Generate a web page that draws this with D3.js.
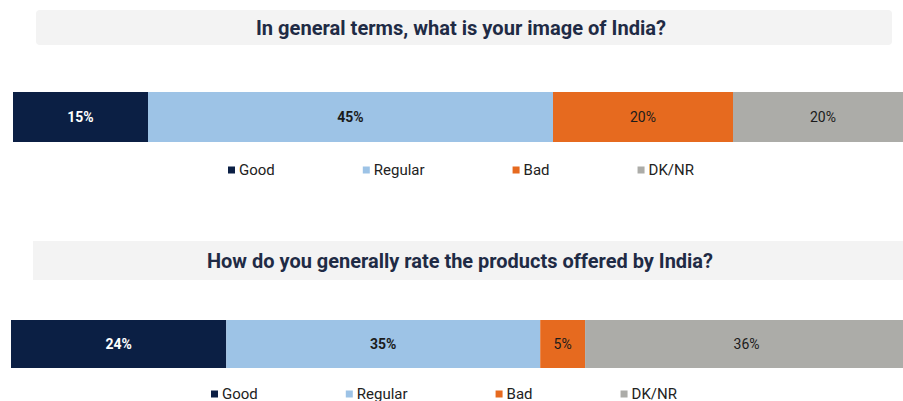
<!DOCTYPE html>
<html>
<head>
<meta charset="utf-8">
<script src="https://cdn.jsdelivr.net/npm/d3@7"></script>
<style>
  body { margin: 0; background: #fff; }
  svg { display: block; font-family: Roboto, "Noto Sans", sans-serif; }
</style>
</head>
<body>
<div id="chart"></div>
<script>
// data
var categories = ["Good", "Regular", "Bad", "DK/NR"];
var imageValues = [15, 45, 20, 20];
var productValues = [24, 35, 5, 36];
var titles = ["In general terms, what is your image of India?",
              "How do you generally rate the products offered by India?"];

var colors = ["#0b1f44", "#9dc3e6", "#e66a1f", "#acaca8"];
var labelColors = ["#ffffff", "#1b1b1b", "#1b1b1b", "#1b1b1b"];
var labelWeights = ["bold", "bold", "normal", "normal"];

var width = 903, height = 401;

var svg = d3.select("#chart").append("svg")
    .attr("width", width)
    .attr("height", height);

// layout of each panel
var panels = [
  {title: titles[0], values: imageValues, box: {x: 36, y: 10, w: 856, h: 35, r: 4},
   titleX: 461, titleLen: 410,
   barX: 13, barW: 900, barY: 92, barH: 50, legendX: 228, legendY: 170},
  {title: titles[1], values: productValues, box: {x: 33, y: 241, w: 870, h: 39, r: 0},
   titleX: 460, titleLen: 506,
   barX: 11, barW: 897, barY: 320, barH: 48, legendX: 211, legendY: 394}
];

panels.forEach(function(p) {
  var g = svg.append("g");

  // title box
  g.append("rect")
    .attr("x", p.box.x).attr("y", p.box.y)
    .attr("width", p.box.w).attr("height", p.box.h)
    .attr("rx", p.box.r)
    .style("fill", "#f3f3f3");

  // condensed look: squeeze a larger bold font into the measured width
  g.append("text")
    .attr("x", p.titleX)
    .attr("y", p.box.y + p.box.h / 2)
    .attr("dy", "0.36em")
    .attr("text-anchor", "middle")
    .attr("textLength", p.titleLen)
    .attr("lengthAdjust", "spacingAndGlyphs")
    .style("font-size", "21px")
    .style("font-weight", "bold")
    .style("fill", "#1f2b45")
    .text(p.title);

  // stacked bar
  var x = d3.scaleLinear().domain([0, 100]).range([p.barX, p.barX + p.barW]);
  var stacked = [];
  var acc = 0;
  p.values.forEach(function(v, i) {
    stacked.push({cat: categories[i], v: v, x0: acc, x1: acc + v, i: i});
    acc += v;
  });

  g.selectAll(".seg")
    .data(stacked)
    .enter()
    .append("rect")
    .attr("class", "seg")
    .attr("x", function(d) { return x(d.x0); })
    .attr("y", p.barY)
    .attr("width", function(d) { return x(d.x1) - x(d.x0); })
    .attr("height", p.barH)
    .style("fill", function(d) { return colors[d.i]; });

  g.selectAll(".lbl")
    .data(stacked)
    .enter()
    .append("text")
    .attr("class", "lbl")
    .attr("x", function(d) { return (x(d.x0) + x(d.x1)) / 2; })
    .attr("y", p.barY + p.barH / 2)
    .attr("dy", "0.35em")
    .attr("text-anchor", "middle")
    .style("font-size", "14px")
    .style("font-weight", function(d) { return labelWeights[d.i]; })
    .style("fill", function(d) { return labelColors[d.i]; })
    .text(function(d) { return d.v + "%"; });

  // legend
  var lx = p.legendX;
  categories.forEach(function(c, i) {
    g.append("rect")
      .attr("x", lx).attr("y", p.legendY - 3.5)
      .attr("width", 7).attr("height", 7)
      .style("fill", colors[i]);
    var t = g.append("text")
      .attr("x", lx + 11)
      .attr("y", p.legendY)
      .attr("dy", "0.35em")
      .style("font-size", "15px")
      .style("fill", "#222")
      .text(c);
    lx = lx + 11 + t.node().getComputedTextLength() + 88;
  });
});
</script>
</body>
</html>
